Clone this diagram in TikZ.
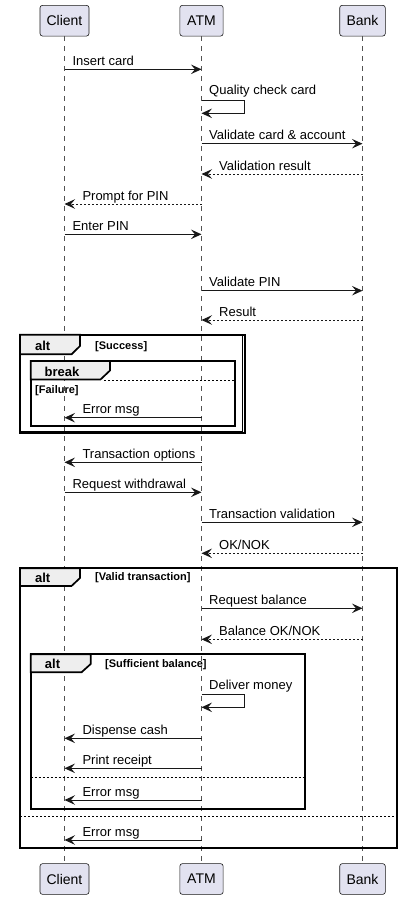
\documentclass[tikz,border=0pt]{standalone}
\usepackage{fontspec}
\setmainfont{Liberation Sans}
\usetikzlibrary{arrows.meta,calc}
\definecolor{partfill}{HTML}{E2E2F0}
\definecolor{partline}{HTML}{181818}
\definecolor{tabfill}{HTML}{EEEEEE}
\newcommand\seqmsg[7]{%
  \coordinate (#1s) at (#2,#4);
  \coordinate (#1e) at (#3,#4);
  \draw[#5] (#1s) -- (#1e);
  \node[lbl] (#1l) at (#6,#4-4) {#7};
}
\newcommand\selfmsg[4]{%
  \coordinate (#1s) at (\xA,#2);
  \coordinate (#1a) at (244.3,#2);
  \coordinate (#1b) at (244.3,#3);
  \coordinate (#1e) at (\xA,#3);
  \draw[msgline] (#1s) -- (#1a) -- (#1b) -- (#1e);
  \node[lbl] (#1l) at (209,#2-5.6) {#4};
}
\def\xC{64.5}
\def\xA{201.5}
\def\xB{362.5}
\begin{document}
\begin{tikzpicture}[x=1pt,y=-1pt,
  part/.style={draw=partline, fill=partfill, rounded corners=2.5pt, line width=0.6pt,
    font=\fontsize{14}{16}\selectfont, inner sep=0, minimum height=30.7pt},
  life/.style={draw=partline!75, line width=0.5pt, dash pattern=on 5pt off 5pt},
  msgline/.style={draw=partline, line width=1pt, -{Stealth[length=10.5pt,width=9.5pt,inset=4pt]}},
  retline/.style={msgline, dash pattern=on 2pt off 2pt},
  lbl/.style={anchor=base west, inner sep=0, font=\fontsize{13}{15}\selectfont},
  frame/.style={draw=black, line width=1.7pt},
  tab/.style={draw=black, line width=1.7pt, fill=tabfill, line join=miter},
  fkw/.style={anchor=base, font=\bfseries\fontsize{13}{15}\selectfont, inner sep=0},
  fcond/.style={font=\bfseries\fontsize{11}{13}\selectfont, inner sep=0, anchor=base west},
  sepline/.style={draw=black, line width=1pt, dash pattern=on 2pt off 2pt}
]
\useasboundingbox (0,0) rectangle (402,900);
% participants
\node[part, minimum width=49pt] (ct) at (\xC,20.7) {Client};
\node[part, minimum width=43.3pt] (at) at (\xA,20.7) {ATM};
\node[part, minimum width=45.6pt] (bt) at (\xB,20.7) {Bank};
\node[part, minimum width=49pt] (cb) at (\xC,879) {Client};
\node[part, minimum width=43.3pt] (ab) at (\xA,879) {ATM};
\node[part, minimum width=45.6pt] (bb) at (\xB,879) {Bank};
\draw[life] (ct.south) -- (cb.north);
\draw[life] (at.south) -- (ab.north);
\draw[life] (bt.south) -- (bb.north);
% messages
\seqmsg{m1}{\xC}{\xA}{69.3}{msgline}{72.3}{Insert card}
\selfmsg{m2}{100}{113.3}{Quality check card}
\seqmsg{m3}{\xA}{\xB}{143.7}{msgline}{209}{Validate card \& account}
\seqmsg{m4}{\xB}{\xA}{174}{retline}{219}{Validation result}
\seqmsg{m5}{\xA}{\xC}{204}{retline}{82.3}{Prompt for PIN}
\seqmsg{m6}{\xC}{\xA}{234.3}{msgline}{72.3}{Enter PIN}
\seqmsg{m7}{\xA}{\xB}{290.7}{msgline}{209}{Validate PIN}
\seqmsg{m8}{\xB}{\xA}{320}{retline}{219}{Result}
% alt Success / break Failure
\draw[frame] (20,334.7) rectangle (245.3,433);
\draw[frame, line width=1pt] (20,334.7) rectangle (242.8,431);
\draw[tab] (20,334.7) -- (80,334.7) -- (80,346) -- (71.5,354.3) -- (20,354.3) -- cycle;
\node[fkw] (f1k) at (42.7,350) {alt};
\node[fcond] (f1c) at (95,349) {[Success]};
\draw[frame] (30.7,361) rectangle (235,425.7);
\draw[sepline] (104,380.3) -- (235,380.3);
\draw[tab] (30.7,361) -- (110,361) -- (110,370.5) -- (100.5,379.5) -- (30.7,379.5) -- cycle;
\node[fkw] (f2k) at (62,376) {break};
\node[fcond] (f2c) at (35,393) {[Failure]};
\seqmsg{m9}{\xA}{\xC}{417.7}{msgline}{82.3}{Error msg}
\seqmsg{m10}{\xA}{\xC}{462.3}{msgline}{82.3}{Transaction options}
\seqmsg{m11}{\xC}{\xA}{492.3}{msgline}{72.3}{Request withdrawal}
\seqmsg{m12}{\xA}{\xB}{522.3}{msgline}{209}{Transaction validation}
\seqmsg{m13}{\xB}{\xA}{553.3}{retline}{219}{OK/NOK}
% alt Valid transaction
\draw[frame] (20,568.3) rectangle (396.7,848.3);
\draw[tab] (20,568.3) -- (80,568.3) -- (80,578) -- (71.5,586) -- (20,586) -- cycle;
\node[fkw] (f3k) at (42.7,582) {alt};
\node[fcond] (f3c) at (95,580.5) {[Valid transaction]};
\seqmsg{m14}{\xA}{\xB}{608.3}{msgline}{209}{Request balance}
\seqmsg{m15}{\xB}{\xA}{639.3}{retline}{219}{Balance OK/NOK}
% alt Sufficient balance
\draw[frame] (30.7,654.3) rectangle (304.7,808.7);
\draw[tab] (30.7,654.3) -- (90.7,654.3) -- (90.7,664) -- (81.5,672.3) -- (30.7,672.3) -- cycle;
\node[fkw] (f4k) at (52.5,668.5) {alt};
\node[fcond] (f4c) at (105,667.5) {[Sufficient balance]};
\selfmsg{m16}{694.7}{707.3}{Deliver money}
\seqmsg{m17}{\xA}{\xC}{738.3}{msgline}{82.3}{Dispense cash}
\seqmsg{m18}{\xA}{\xC}{768.3}{msgline}{82.3}{Print receipt}
\draw[sepline] (30.7,777.3) -- (304.7,777.3);
\seqmsg{m19}{\xA}{\xC}{800}{msgline}{82.3}{Error msg}
\draw[sepline] (20,816.3) -- (396.7,816.3);
\seqmsg{m20}{\xA}{\xC}{840}{msgline}{82.3}{Error msg}
\end{tikzpicture}
\end{document}
